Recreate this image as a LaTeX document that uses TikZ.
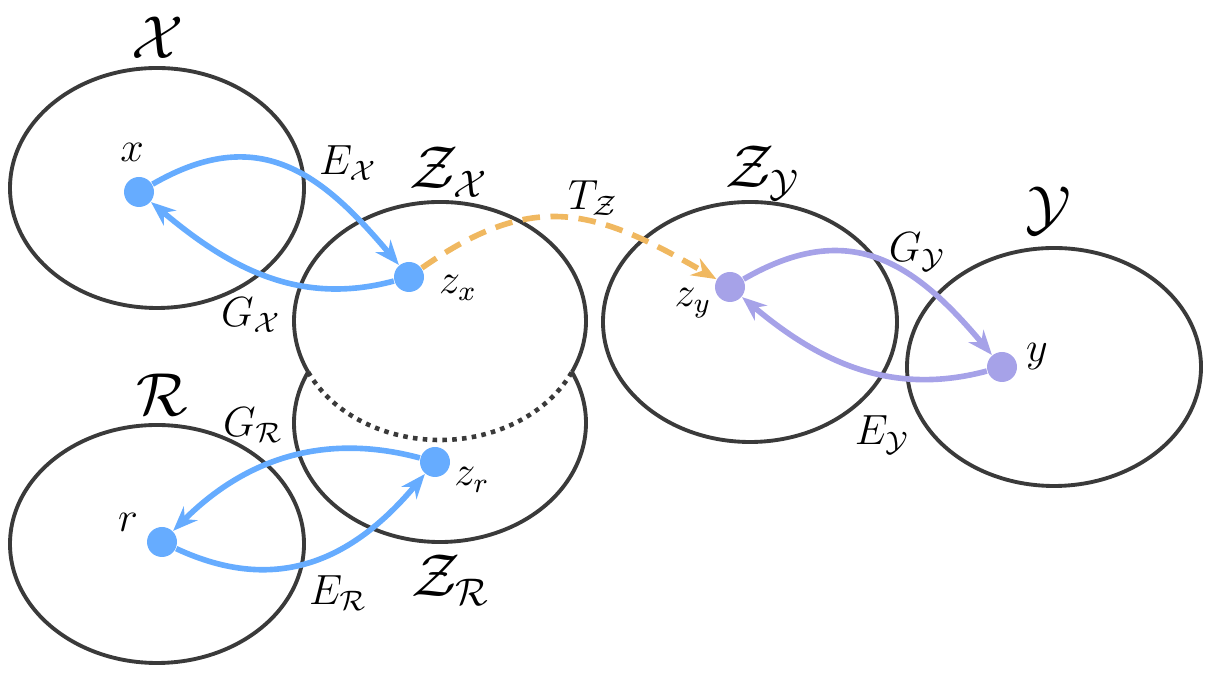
\documentclass[tikz,border=0pt]{standalone}
\usepackage{amsmath}
\usetikzlibrary{arrows.meta}
\definecolor{encblue}{RGB}{102,172,255}
\definecolor{encpurple}{RGB}{166,162,232}
\definecolor{transorange}{RGB}{240,184,96}
\definecolor{setgray}{RGB}{58,58,58}
\begin{document}
\begin{tikzpicture}[>={Stealth[length=7pt,width=5.5pt]},
  setline/.style={draw=setgray, line width=1.1pt},
  pointdot/.style={circle, fill=#1, inner sep=0pt, minimum size=0.30cm},
  mapline/.style={->, line width=1.6pt, draw=#1},
  ptlab/.style={font=\fontsize{12}{14}\selectfont},
  setlab/.style={font=\fontsize{16}{18}\selectfont}]
  \useasboundingbox (0,0) rectangle (12.24,6.79);
  % data spaces
  \draw[setline] (1.57,4.91) ellipse [x radius=1.47, y radius=1.20];
  \draw[setline] (1.57,1.35) ellipse [x radius=1.47, y radius=1.19];
  \draw[setline] (10.54,3.12) ellipse [x radius=1.47, y radius=1.19];
  \draw[setline] (7.50,3.57) ellipse [x radius=1.47, y radius=1.20];
  % the two latent spaces that overlap (hidden part dotted)
  \draw[setline] (4.40,3.58) ++(-25.4:1.46 and 1.19)
    arc[start angle=-25.4, end angle=205.4, x radius=1.46, y radius=1.19];
  \draw[setline, line width=1.3pt, dash pattern=on 1.3pt off 1.5pt] (4.40,3.58) ++(205.4:1.46 and 1.19)
    arc[start angle=205.4, end angle=334.6, x radius=1.46, y radius=1.19];
  \draw[setline] (4.40,2.56) ++(154.6:1.46 and 1.19)
    arc[start angle=154.6, end angle=385.4, x radius=1.46, y radius=1.19];
  % set labels
  \node[setlab] (lX) at (1.58,6.41) {$\mathcal{X}$};
  \node[setlab] (lR) at (1.62,2.84) {$\mathcal{R}$};
  \node[setlab] (lZX) at (4.49,5.07) {$\mathcal{Z}_{\mathcal{X}}$};
  \node[setlab] (lZR) at (4.51,0.99) {$\mathcal{Z}_{\mathcal{R}}$};
  \node[setlab] (lZY) at (7.63,5.06) {$\mathcal{Z}_{\mathcal{Y}}$};
  \node[setlab] (lY) at (10.48,4.68) {$\mathcal{Y}$};
  % points
  \node[pointdot=encblue] (x) at (1.39,4.87) {};
  \node[pointdot=encblue] (zx) at (4.09,4.02) {};
  \node[pointdot=encblue] (r) at (1.62,1.37) {};
  \node[pointdot=encblue] (zr) at (4.35,2.17) {};
  \node[pointdot=encpurple] (zy) at (7.30,3.92) {};
  \node[pointdot=encpurple] (y) at (10.02,3.12) {};
  \node[ptlab] (lx) at (1.32,5.27) {$x$};
  \node[ptlab] (lzx) at (4.58,3.91) {$z_x$};
  \node[ptlab] (lr) at (1.28,1.57) {$r$};
  \node[ptlab] (lzr) at (4.72,1.99) {$z_r$};
  \node[ptlab] (lzy) at (6.93,3.76) {$z_y$};
  \node[ptlab] (ly) at (10.37,3.22) {$y$};
  % encoders / generators
  \draw[mapline=encblue] (x) to[out=30, in=130, looseness=1.2] (zx);
  \draw[mapline=encblue] (zx) to[out=195, in=-40] (x);
  \draw[mapline=encblue] (r) to[out=-25, in=-130, looseness=1.1] (zr);
  \draw[mapline=encblue] (zr) to[out=165, in=45] (r);
  \draw[mapline=encpurple] (zy) to[out=30, in=130, looseness=1.2] (y);
  \draw[mapline=encpurple] (y) to[out=195, in=-40] (zy);
  \node[ptlab] (lEX) at (3.48,5.16) {$E_{\mathcal{X}}$};
  \node[ptlab] (lGX) at (2.51,3.64) {$G_{\mathcal{X}}$};
  \node[ptlab] (lGR) at (2.53,2.54) {$G_{\mathcal{R}}$};
  \node[ptlab] (lER) at (3.38,0.86) {$E_{\mathcal{R}}$};
  \node[ptlab] (lGY) at (9.17,4.27) {$G_{\mathcal{Y}}$};
  \node[ptlab] (lEY) at (8.82,2.44) {$E_{\mathcal{Y}}$};
  % latent translation
  \draw[mapline=transorange, dash pattern=on 5pt off 3pt]
    (zx) to[out=35, in=150, looseness=1.2] (zy);
  \node[ptlab] (lTZ) at (5.93,4.81) {$T_{\mathcal{Z}}$};
\end{tikzpicture}
\end{document}
